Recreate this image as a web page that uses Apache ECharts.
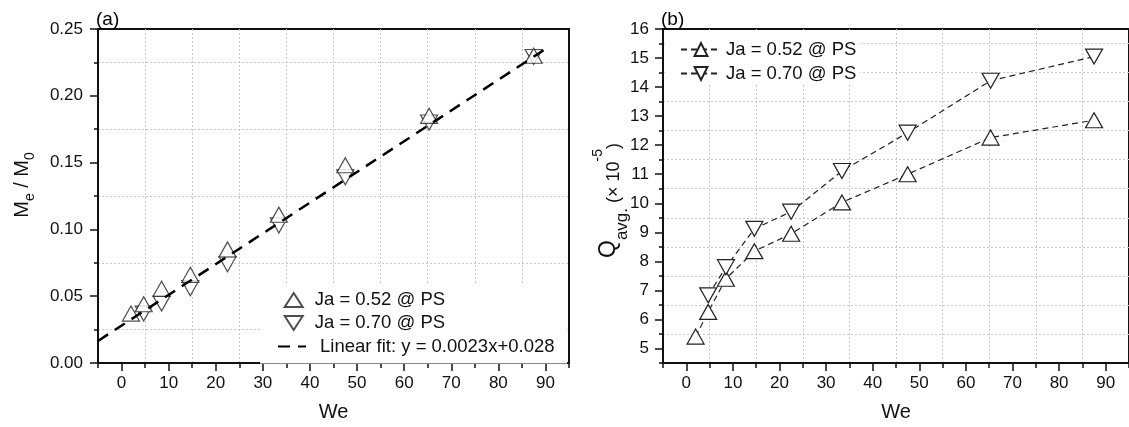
<!DOCTYPE html>
<html>
<head>
<meta charset="utf-8">
<script src="https://cdn.jsdelivr.net/npm/echarts@6/dist/echarts.min.js"></script>
<style>
  html, body { margin: 0; padding: 0; background: #fff; }
  #chart { width: 1129px; height: 427px; }
</style>
</head>
<body>
<div id="chart"></div>
<script>
// Weber numbers of the test cases (shared by both panels)
const weNumbers = [2.0, 4.7, 8.5, 14.6, 22.5, 33.4, 47.5, 65.3, 87.5];

// Panel (a): entrained mass ratio Me / M0
const massRatioJa052 = [0.037, 0.044, 0.0555, 0.066, 0.085, 0.111, 0.148, 0.185, 0.230];
const massRatioJa070 = [null, 0.037, 0.0445, 0.056, 0.074, 0.103, 0.139, 0.180, 0.229];

// Panel (b): average heat flow Q_avg (x 10^-5)
const qAvgJa052 = [5.41, 6.26, 7.40, 8.35, 8.95, 10.03, 11.0, 12.26, 12.86];
const qAvgJa070 = [null, 6.83, 7.80, 9.12, 9.71, 11.11, 12.43, 14.22, 15.05];

// Linear fit stated in the legend of panel (a)
const fitSlope = 0.0023;
const fitIntercept = 0.028;
const fitRange = [-5, 91];

// Labelled tick values
const weTickValues = [0, 10, 20, 30, 40, 50, 60, 70, 80, 90];
const qTickValues = [5, 6, 7, 8, 9, 10, 11, 12, 13, 14, 15, 16];

const FONT = '"Liberation Sans", Arial, Helvetica, sans-serif';
const INK = '#111';
const MARK = '#222';
const GRID_LINE = { color: '#c9c9c9', width: 1, type: [2, 2] };
const AXIS_LINE = { color: INK, width: 2 };
const TICK_LINE = { color: INK, width: 1.5 };
const TICK_FONT = { fontFamily: FONT, fontSize: 17, color: INK };
const LEGEND_FONT = 18.5;

const UP_ICON = 'path://M9,0L18,14L0,14Z';
const DOWN_ICON = 'path://M0,0L18,0L9,14Z';

function pairs(xs, ys) {
  return xs.map((x, i) => [x, ys[i]]).filter(p => p[1] != null);
}
const fitLine = fitRange.map(x => [x, fitSlope * x + fitIntercept]);

function mainXAxis(gridIndex) {
  return {
    type: 'value', gridIndex, position: 'bottom', min: -5, max: 95,
    name: 'We', nameLocation: 'middle', nameGap: 39, nameMoveOverlap: false,
    nameTextStyle: { fontFamily: FONT, fontSize: 20, color: INK },
    axisLine: { show: true, onZero: false, lineStyle: AXIS_LINE },
    axisTick: { show: true, customValues: weTickValues, length: 8, lineStyle: TICK_LINE },
    axisLabel: Object.assign({ show: true, customValues: weTickValues, margin: 12 }, TICK_FONT),
    splitLine: { show: false }
  };
}
function minorXAxis(gridIndex) {
  // ticks at -5, 5, 15, ... 95 carry the short ticks and the dotted grid
  return {
    type: 'value', gridIndex, position: 'bottom', min: -5, max: 95, interval: 10,
    axisLine: { show: false, onZero: false },
    axisTick: { show: true, length: 5, lineStyle: TICK_LINE },
    axisLabel: { show: false },
    splitLine: { show: true, showMinLine: false, showMaxLine: false, lineStyle: GRID_LINE }
  };
}

function legendText(leftPad) {
  return {
    formatter: name => '{t|' + name.replace(/ \([ab]\)$/, '') + '}',
    textStyle: {
      fontFamily: FONT, fontSize: LEGEND_FONT, color: INK,
      rich: { t: { fontFamily: FONT, fontSize: LEGEND_FONT, color: INK, padding: [0, 0, 0, leftPad] } }
    }
  };
}

const option = {
  animation: false,
  backgroundColor: '#fff',
  title: [
    { text: '(a)', left: 96, top: 10, padding: 0,
      textStyle: { fontFamily: FONT, fontSize: 19, fontWeight: 'normal', color: '#000' } },
    { text: '(b)', left: 661, top: 10, padding: 0,
      textStyle: { fontFamily: FONT, fontSize: 19, fontWeight: 'normal', color: '#000' } }
  ],
  grid: [
    { left: 98, top: 29, right: 560, bottom: 62, containLabel: false,
      show: true, borderColor: INK, borderWidth: 2, backgroundColor: 'transparent' },
    { left: 663, top: 29, right: -5, bottom: 62, containLabel: false,
      show: true, borderColor: INK, borderWidth: 2, backgroundColor: 'transparent' }
  ],
  xAxis: [mainXAxis(0), minorXAxis(0), mainXAxis(1), minorXAxis(1)],
  yAxis: [
    {
      type: 'value', gridIndex: 0, min: 0, max: 0.25, interval: 0.05,
      name: '{m|M}{s|e}{m| / M}{s|0}', nameLocation: 'middle', nameGap: 61, nameMoveOverlap: false,
      nameTextStyle: {
        fontFamily: FONT, fontSize: 20, color: INK, padding: [0, 0, 0, 22],
        rich: {
          m: { fontFamily: FONT, fontSize: 20, color: INK, lineHeight: 30 },
          s: { fontFamily: FONT, fontSize: 14, color: INK, verticalAlign: 'bottom' }
        }
      },
      axisLine: { show: true, onZero: false, lineStyle: AXIS_LINE },
      axisTick: { show: true, length: 8, lineStyle: TICK_LINE },
      minorTick: { show: true, splitNumber: 2, length: 4, lineStyle: TICK_LINE },
      axisLabel: Object.assign({ margin: 15, formatter: v => v.toFixed(2) }, TICK_FONT),
      splitLine: { show: false },
      minorSplitLine: { show: true, lineStyle: GRID_LINE }
    },
    {
      type: 'value', gridIndex: 1, min: 4.5, max: 16,
      name: '{m|Q}{sub|avg.}{p| (\u00d7 10}{sup|-5}{p|)}', nameLocation: 'middle', nameGap: 32,
      nameMoveOverlap: false,
      nameTextStyle: {
        fontFamily: FONT, fontSize: 23, color: INK, padding: [0, 9, 0, 0],
        rich: {
          m: { fontFamily: FONT, fontSize: 23, color: INK, lineHeight: 44 },
          sub: { fontFamily: FONT, fontSize: 17, color: INK, verticalAlign: 'bottom' },
          p: { fontFamily: FONT, fontSize: 18, color: INK, verticalAlign: 'bottom', padding: [0, 0, 7.5, 0] },
          sup: { fontFamily: FONT, fontSize: 14, color: INK, verticalAlign: 'top', padding: [4.5, 0, 0, 0] }
        }
      },
      axisLine: { show: true, onZero: false, lineStyle: AXIS_LINE },
      axisTick: { show: true, customValues: qTickValues, length: 8, lineStyle: TICK_LINE },
      axisLabel: Object.assign({ customValues: qTickValues, margin: 14 }, TICK_FONT),
      splitLine: { show: false }
    },
    {
      // half-unit ticks 4.5, 5.5, ... with the dotted grid
      type: 'value', gridIndex: 1, position: 'left', min: 4.5, max: 16, interval: 1,
      axisLine: { show: false, onZero: false },
      axisTick: { show: true, length: 4, lineStyle: TICK_LINE },
      axisLabel: { show: false },
      splitLine: { show: true, showMinLine: false, showMaxLine: false, lineStyle: GRID_LINE }
    }
  ],
  legend: [
    Object.assign({
      data: [
        { name: 'Ja = 0.52 @ PS (a)', icon: UP_ICON },
        { name: 'Ja = 0.70 @ PS (a)', icon: DOWN_ICON }
      ],
      orient: 'vertical', left: 260, top: 283, padding: [7.5, 122, 31, 23.7],
      itemWidth: 18, itemHeight: 14, itemGap: 4, selectedMode: false,
      backgroundColor: '#fff'
    }, legendText(7)),
    Object.assign({
      data: ['Linear fit: y = 0.0023x+0.028'],
      orient: 'vertical', left: 277, top: 337, padding: 0,
      itemWidth: 28, itemHeight: 14, selectedMode: false,
      itemStyle: { color: 'rgba(0,0,0,0)', borderColor: 'rgba(0,0,0,0)', borderWidth: 0, opacity: 0 }
    }, legendText(9)),
    Object.assign({
      data: ['Ja = 0.52 @ PS (b)', 'Ja = 0.70 @ PS (b)'],
      orient: 'vertical', left: 665, top: 30, padding: [10, 4, 2, 15],
      itemWidth: 40, itemHeight: 16, itemGap: 5, selectedMode: false,
      backgroundColor: '#fff'
    }, legendText(0))
  ],
  series: [
    {
      name: 'Ja = 0.70 @ PS (a)', type: 'scatter', xAxisIndex: 0, yAxisIndex: 0,
      symbol: 'triangle', symbolRotate: 180, symbolSize: [17, 15],
      itemStyle: { color: '#fff', borderColor: MARK, borderWidth: 1.2 },
      data: pairs(weNumbers, massRatioJa070)
    },
    {
      name: 'Ja = 0.52 @ PS (a)', type: 'scatter', xAxisIndex: 0, yAxisIndex: 0,
      symbol: 'triangle', symbolSize: [17, 15],
      itemStyle: { color: '#fff', borderColor: MARK, borderWidth: 1.2 },
      data: pairs(weNumbers, massRatioJa052)
    },
    {
      name: 'Linear fit: y = 0.0023x+0.028', type: 'line', xAxisIndex: 0, yAxisIndex: 0,
      symbol: 'none', z: 3,
      lineStyle: { color: '#000', width: 2.5, type: [12, 8] },
      itemStyle: { color: '#000' },
      data: fitLine
    },
    {
      name: 'Ja = 0.52 @ PS (b)', type: 'line', xAxisIndex: 2, yAxisIndex: 1,
      symbol: 'triangle', symbolSize: [17, 15], showSymbol: true,
      lineStyle: { color: '#222', width: 1.2, type: [6, 4] },
      itemStyle: { color: '#fff', borderColor: MARK, borderWidth: 1.2 },
      data: pairs(weNumbers, qAvgJa052)
    },
    {
      name: 'Ja = 0.70 @ PS (b)', type: 'line', xAxisIndex: 2, yAxisIndex: 1,
      symbol: 'triangle', symbolRotate: 180, symbolSize: [17, 15], showSymbol: true,
      lineStyle: { color: '#222', width: 1.2, type: [6, 4] },
      itemStyle: { color: '#fff', borderColor: MARK, borderWidth: 1.2 },
      data: pairs(weNumbers, qAvgJa070)
    }
  ]
};

const chart = echarts.init(document.getElementById('chart'), null, { renderer: 'canvas' });
chart.setOption(option);
</script>
</body>
</html>
